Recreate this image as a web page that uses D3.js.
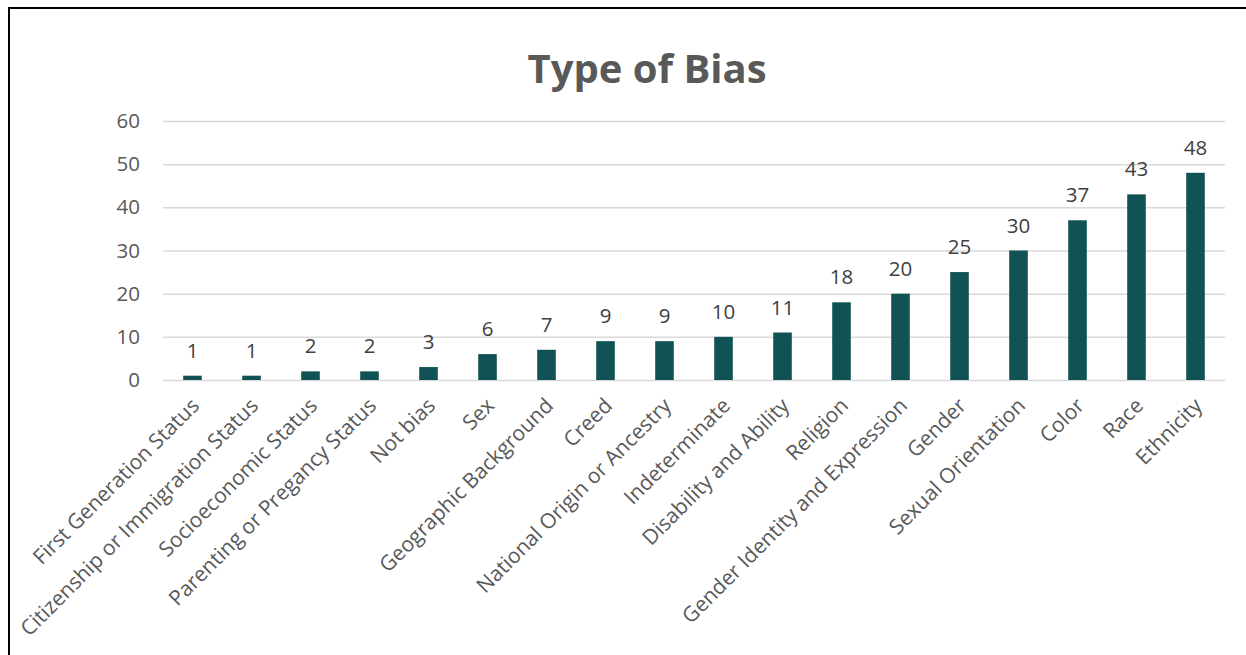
<!DOCTYPE html>
<html>
<head>
<meta charset="utf-8">
<script src="https://cdn.jsdelivr.net/npm/d3@7"></script>
<style>
  body { margin: 0; background: #fff; }
  text { font-family: "Open Sans", sans-serif; }
</style>
</head>
<body>
<svg id="drawing_region"></svg>
<script>
const categories = [
    'First Generation Status', 'Citizenship or Immigration Status', 'Socioeconomic Status',
    'Parenting or Pregancy Status', 'Not bias', 'Sex', 'Geographic Background', 'Creed',
    'National Origin or Ancestry', 'Indeterminate', 'Disability and Ability', 'Religion',
    'Gender Identity and Expression', 'Gender', 'Sexual Orientation', 'Color', 'Race', 'Ethnicity'
];
const values = [1, 1, 2, 2, 3, 6, 7, 9, 9, 10, 11, 18, 20, 25, 30, 37, 43, 48];
const yticks = [0, 10, 20, 30, 40, 50, 60];

const data = categories.map((c, i) => ({ label: c, value: values[i] }));

const width = 1246, height = 655;
const margin = { top: 121, right: 21, bottom: 275, left: 163 };
const inner_width = width - margin.left - margin.right;
const inner_height = height - margin.top - margin.bottom;

const svg = d3.select('#drawing_region')
    .attr('width', width)
    .attr('height', height);

// outer frame (right and bottom edges run off the picture)
svg.append('rect')
    .attr('x', 9).attr('y', 8)
    .attr('width', 1260).attr('height', 680)
    .attr('fill', 'none')
    .attr('stroke', '#000')
    .attr('stroke-width', 2);

svg.append('text')
    .attr('x', 647).attr('y', 83)
    .attr('text-anchor', 'middle')
    .attr('font-size', 40)
    .attr('font-weight', 'bold')
    .attr('fill', '#595959')
    .text('Type of Bias');

const chart = svg.append('g')
    .attr('transform', `translate(${margin.left}, ${margin.top})`);

const xscale = d3.scaleBand()
    .domain(categories)
    .range([0, inner_width])
    .paddingInner(0.685)
    .paddingOuter(0.3425);

const yscale = d3.scaleLinear()
    .domain([0, 60])
    .range([inner_height, 0]);

// gridlines + y labels
const yaxis = d3.axisLeft(yscale)
    .tickValues(yticks)
    .tickSize(-inner_width)
    .tickPadding(23);

chart.append('g')
    .call(yaxis)
    .call(g => g.select('.domain').remove())
    .call(g => g.selectAll('.tick line').attr('stroke', '#d9d9d9').attr('stroke-width', 1.5))
    .call(g => g.selectAll('.tick text')
        .attr('font-size', 20.5)
        .attr('fill', '#595959')
        .attr('font-family', '"Open Sans", sans-serif'));

chart.selectAll('rect.bar')
    .data(data)
    .join('rect')
    .attr('class', 'bar')
    .attr('x', d => xscale(d.label))
    .attr('y', d => yscale(d.value))
    .attr('width', xscale.bandwidth())
    .attr('height', d => inner_height - yscale(d.value))
    .attr('fill', '#115354');

chart.selectAll('text.value')
    .data(data)
    .join('text')
    .attr('class', 'value')
    .attr('x', d => xscale(d.label) + xscale.bandwidth() / 2)
    .attr('y', d => yscale(d.value) - 18)
    .attr('text-anchor', 'middle')
    .attr('font-size', 20.5)
    .attr('fill', '#404040')
    .text(d => d.value);

// rotated category labels
const xaxis = d3.axisBottom(xscale)
    .tickSize(0)
    .tickPadding(0);

chart.append('g')
    .attr('transform', `translate(0, ${inner_height})`)
    .call(xaxis)
    .call(g => g.select('.domain').remove())
    .call(g => g.selectAll('.tick text')
        .attr('font-size', 21)
        .attr('fill', '#595959')
        .attr('font-family', '"Open Sans", sans-serif')
        .attr('text-anchor', 'end')
        .attr('dy', null)
        .attr('y', 0)
        .attr('transform', 'translate(8, 27) rotate(-45)'));
</script>
</body>
</html>
